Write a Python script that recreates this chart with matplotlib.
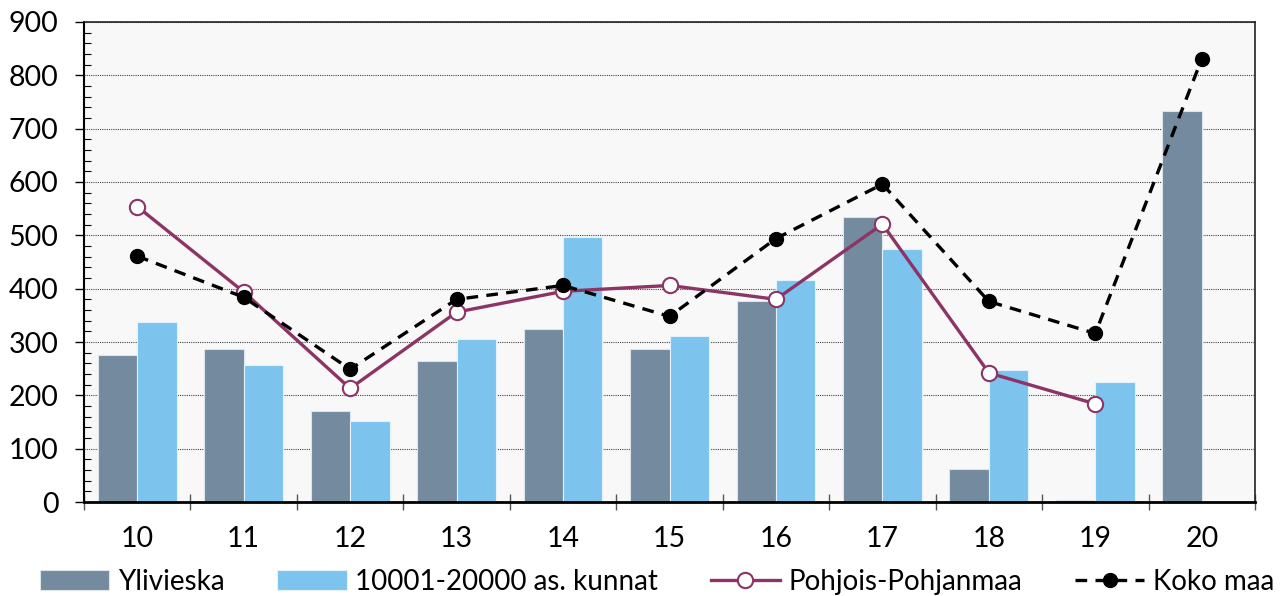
import numpy as np
import matplotlib
matplotlib.use('Agg')
import matplotlib.pyplot as plt
from matplotlib.ticker import MultipleLocator

years = ['10', '11', '12', '13', '14', '15', '16', '17', '18', '19', '20']
ylivieska = [275, 286, 171, 265, 324, 286, 376, 535, 61, 3, 733]
kunnat = [338, 256, 151, 306, 497, 312, 416, 474, 248, 225, np.nan]
pohjois = [554, 394, 213, 356, 395, 406, 380, 521, 242, 184, np.nan]
koko_maa = [461, 384, 249, 380, 406, 348, 494, 596, 376, 316, 831]

plt.rcParams['font.family'] = ['Lato', 'DejaVu Sans']

fig = plt.figure(figsize=(12.88, 5.96), dpi=100)
ax = fig.add_axes([0.0652, 0.1577, 0.9092, 0.8054])
ax.set_facecolor('#f8f8f8')

x = np.arange(len(years))
w = 0.37
b1 = ax.bar(x - w / 2, ylivieska, w, color='#738a9f', edgecolor='#dde4ea', linewidth=0.8,
            label='Ylivieska', zorder=2)
b2 = ax.bar(x + w / 2, kunnat, w, color='#7cc4ee', edgecolor='#e4f2fb', linewidth=0.8,
            label='10001-20000 as. kunnat', zorder=2)
l1, = ax.plot(x, pohjois, color='#8b3465', lw=2.4, marker='o', ms=11, mfc='white',
              mec='#8b3465', mew=1.5, label='Pohjois-Pohjanmaa', zorder=3)
l2, = ax.plot(x, koko_maa, color='black', lw=2.4, ls=(0, (3.5, 2.5)), marker='o', ms=10,
              mfc='black', mec='black', label='Koko maa', zorder=4)

ax.set_xlim(-0.5, len(years) - 0.5)
ax.set_ylim(0, 900)
ax.yaxis.set_major_locator(MultipleLocator(100))
ax.yaxis.set_minor_locator(MultipleLocator(20))
ax.grid(axis='y', which='major', color='#444444', ls=(0, (1, 1)), lw=0.8, zorder=1)

# ticks at group boundaries, labels at group centres
ax.set_xticks(np.arange(-0.5, len(years), 1))
ax.set_xticklabels([])
ax.set_xticks(x, minor=True)
ax.set_xticklabels(years, minor=True)
ax.tick_params(axis='x', which='major', direction='inout', length=12, width=1, color='#555555')
ax.tick_params(axis='x', which='minor', length=0, pad=17, labelsize=20.5)
ax.tick_params(axis='y', which='major', direction='out', length=6.5, width=1, pad=12, labelsize=20.5)
ax.tick_params(axis='y', which='minor', direction='in', length=5, width=0.8)

for side in ['top', 'right']:
    ax.spines[side].set_linewidth(1.2)
    ax.spines[side].set_color('#222222')
ax.spines['left'].set_linewidth(1.5)
ax.spines['bottom'].set_linewidth(2)

fig.legend(handles=[b1, b2, l1, l2], loc='center', bbox_to_anchor=(0.51, 0.024), ncol=4,
           frameon=False, fontsize=20, handlelength=2.5, handleheight=0.75, handletextpad=0.3,
           columnspacing=1.9, borderaxespad=0, borderpad=0)

fig.savefig('out.png', dpi=100)
